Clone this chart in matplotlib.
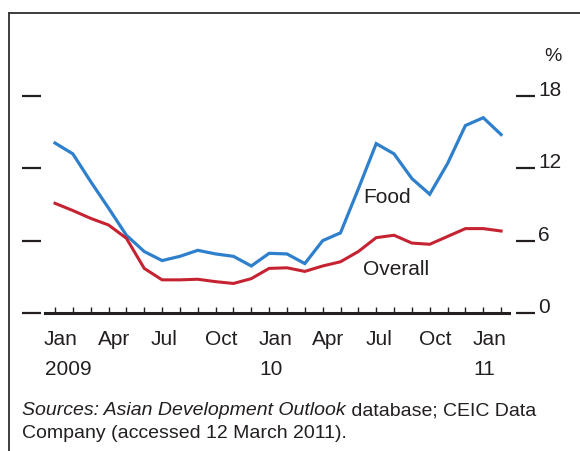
import numpy as np
import matplotlib
matplotlib.use("Agg")
import matplotlib.pyplot as plt
from matplotlib.lines import Line2D

plt.rcParams['font.family'] = ['Liberation Sans', 'DejaVu Sans']

# monthly, Jan 2009 .. Feb 2011
food = [14.1, 13.2, 10.9, 8.7, 6.45, 5.1, 4.35, 4.7, 5.2, 4.9, 4.7, 3.9, 4.95,
        4.9, 4.1, 6.0, 6.65, 10.3, 14.05, 13.2, 11.15, 9.85, 12.4, 15.55, 16.2, 14.8]
overall = [9.1, 8.5, 7.85, 7.3, 6.2, 3.7, 2.75, 2.75, 2.8, 2.6, 2.45, 2.85, 3.7,
           3.75, 3.45, 3.9, 4.25, 5.1, 6.25, 6.45, 5.8, 5.7, 6.35, 7.0, 7.0, 6.8]
month_labels = ["Jan", "Apr", "Jul", "Oct", "Jan", "Apr", "Jul", "Oct", "Jan"]
year_labels = {0: "2009", 12: "10", 24: "11"}
yticks = [0, 6, 12, 18]

txt = '#231f20'
fs = 15

fig = plt.figure(figsize=(5.8, 4.51), dpi=100)
W, H = 580, 451
ax = fig.add_axes([22 / W, 1 - 313 / H, (535 - 22) / W, (313 - 96) / H])

x = np.arange(len(food))
ax.plot(x, food, color='#2f80cc', lw=2.3, solid_joinstyle='miter')
ax.plot(x, overall, color='#c62332', lw=2.2, solid_joinstyle='miter')

ax.set_xlim(-1.85, 26.9)
ax.set_ylim(0, 18)

for s in ['top', 'left', 'right']:
    ax.spines[s].set_visible(False)
ax.spines['bottom'].set_bounds(-0.58, 25.45)
ax.spines['bottom'].set_linewidth(2.2)
ax.spines['bottom'].set_color(txt)

ax.set_xticks(np.arange(0, 26))
ax.tick_params(axis='x', direction='in', length=4.5, width=1.0, color=txt,
               labelbottom=False)

ax.set_yticks(yticks)
ax.tick_params(axis='y', which='both', direction='in', length=13.5, width=1.6,
               color=txt, left=True, right=True, labelleft=False,
               labelright=True, pad=2.5, labelsize=fs, labelcolor=txt)
for t in ax.yaxis.get_major_ticks():
    t.label2.set_verticalalignment('baseline')

# month / year labels
for i, lab in enumerate(month_labels):
    m = i * 3
    ax.annotate(lab, xy=(m, 0), xycoords=('data', 'axes fraction'),
                xytext=(-11, -32), textcoords='offset pixels',
                ha='left', va='baseline', fontsize=fs, color=txt)
    if m in year_labels:
        ax.annotate(year_labels[m], xy=(m, 0), xycoords=('data', 'axes fraction'),
                    xytext=(-10, -62), textcoords='offset pixels',
                    ha='left', va='baseline', fontsize=fs, color=txt)

ax.annotate('%', xy=(1, 1), xycoords='axes fraction', xytext=(9, 35),
            textcoords='offset pixels', ha='left', va='baseline',
            fontsize=fs - 1, color=txt)

ax.text(17.26, 9.1, 'Food', ha='left', va='baseline', fontsize=fs, color=txt)
ax.text(17.26, 3.15, 'Overall', ha='left', va='baseline', fontsize=fs, color=txt)

# frame lines (top and left)
fig.add_artist(Line2D([9 / W, 1], [1 - 13 / H, 1 - 13 / H], color='#3c3c3c', lw=1.4))
fig.add_artist(Line2D([9 / W, 9 / W], [0, 1 - 13 / H], color='#3c3c3c', lw=1.4))

# source note
t1 = fig.text(22 / W, 1 - 415 / H, 'Sources: Asian Development Outlook',
              style='italic', ha='left', va='baseline', fontsize=fs - 1, color=txt)
fig.canvas.draw()
bb = t1.get_window_extent(fig.canvas.get_renderer())
fig.text(bb.x1 / W, 1 - 415 / H, ' database; CEIC Data', ha='left',
         va='baseline', fontsize=fs - 1, color=txt)
fig.text(22 / W, 1 - 438 / H, 'Company (accessed 12 March 2011).', ha='left',
         va='baseline', fontsize=fs - 1, color=txt)

fig.savefig('out.png', dpi=100)
